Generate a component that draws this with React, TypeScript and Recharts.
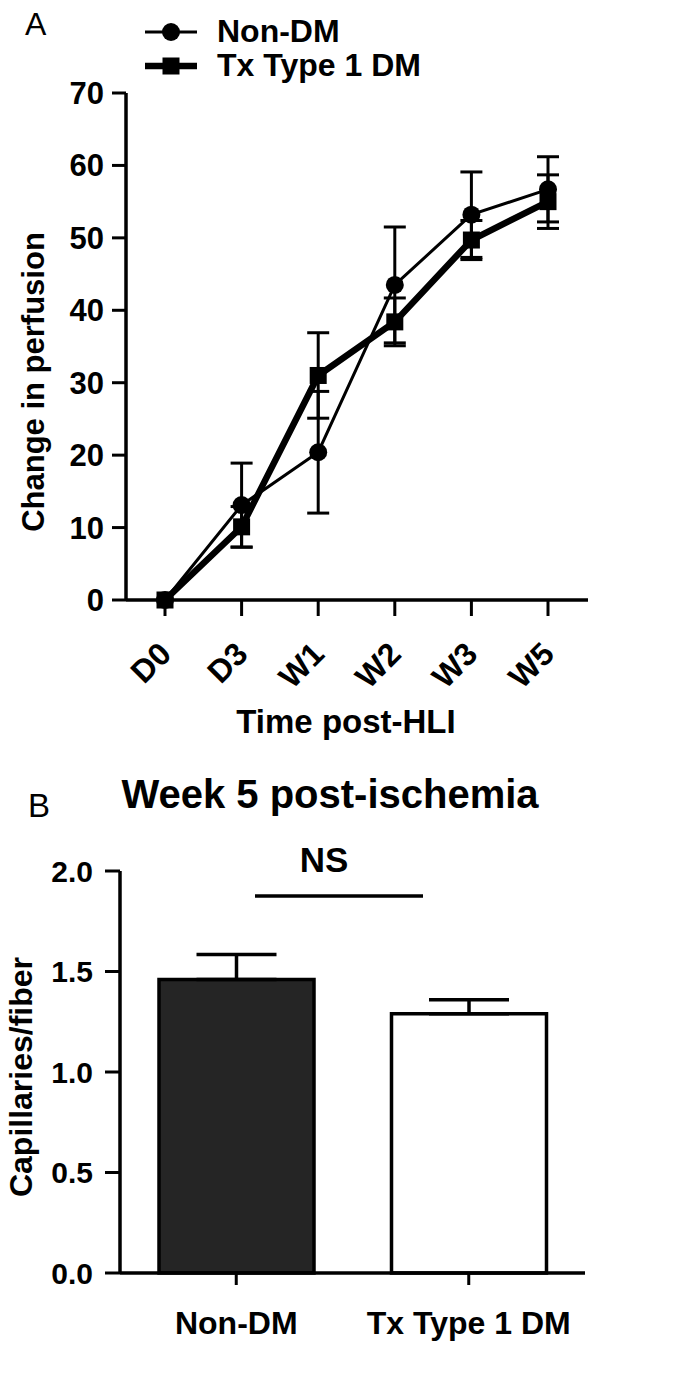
import React from "react";
import {
  LineChart,
  Line,
  BarChart,
  Bar,
  Cell,
  XAxis,
  YAxis,
  ErrorBar,
} from "recharts";

// panel A: perfusion recovery after HLI
const timePoints = ["D0", "D3", "W1", "W2", "W3", "W5"];
const nonDmMean = [0, 13.1, 20.4, 43.5, 53.2, 56.7];
const nonDmSem = [0, 5.8, 8.4, 8.0, 5.9, 4.5];
const txMean = [0, 10.1, 31.0, 38.4, 49.7, 55.0];
const txSem = [0, 2.8, 5.9, 3.3, 2.7, 3.7];
const perfusionTicks = [0, 10, 20, 30, 40, 50, 60, 70];

// panel B: capillary density at week 5
const groups = ["Non-DM", "Tx Type 1 DM"];
const capMean = [1.46, 1.29];
const capSem = [0.125, 0.07];
const barFills = ["#252525", "#ffffff"];
const capTicks = [0, 0.5, 1, 1.5, 2];

const FONT = '"Liberation Sans", Arial, Helvetica, sans-serif';

const perfData = timePoints.map((t, i) => ({
  time: t,
  nonDm: nonDmMean[i],
  nonDmErr: nonDmSem[i],
  tx: txMean[i],
  txErr: txSem[i],
}));

const capData = groups.map((g, i) => ({
  group: g,
  mean: capMean[i],
  err: [0, capSem[i]],
}));

const tickStyle = { fill: "#000", fontSize: 31, fontWeight: "bold", fontFamily: FONT };

function RotTick(p: any) {
  return (
    <g transform={`translate(${p.x},${p.y})`}>
      <text
        x={8}
        y={38}
        textAnchor="end"
        transform="rotate(-45 8 38)"
        fill="#000"
        fontSize={32}
        fontWeight="bold"
        fontFamily={FONT}
      >
        {p.payload.value}
      </text>
    </g>
  );
}

function CircleDot(p: any) {
  return <circle key={`c-${p.index}`} cx={p.cx} cy={p.cy} r={9} fill="#000" />;
}

function SquareDot(p: any) {
  return (
    <rect key={`s-${p.index}`} x={p.cx - 8.5} y={p.cy - 8.5} width={17} height={17} fill="#000" />
  );
}

export default function App() {
  return (
    <div
      style={{
        position: "absolute",
        left: 0,
        top: 0,
        width: 681,
        height: 1380,
        background: "#fff",
        fontFamily: FONT,
      }}
    >
      <div style={{ position: "absolute", left: 0, top: 0 }}>
        <LineChart
          width={681}
          height={760}
          data={perfData}
          margin={{ top: 93, right: 93, bottom: 100, left: 26 }}
        >
          <XAxis
            dataKey="time"
            height={60}
            interval={0}
            padding={{ left: 39, right: 40 }}
            axisLine={{ stroke: "#000", strokeWidth: 3.5 }}
            tickLine={{ stroke: "#000", strokeWidth: 3 }}
            tickSize={16}
            tick={<RotTick />}
          />
          <YAxis
            width={100}
            type="number"
            domain={[0, 70]}
            ticks={perfusionTicks}
            interval={0}
            axisLine={{ stroke: "#000", strokeWidth: 3.5 }}
            tickLine={{ stroke: "#000", strokeWidth: 3 }}
            tickSize={14}
            tickMargin={8}
            tick={tickStyle}
          />
          <Line
            type="linear"
            dataKey="nonDm"
            stroke="#000"
            strokeWidth={3}
            dot={CircleDot}
            activeDot={false}
            isAnimationActive={false}
          >
            <ErrorBar dataKey="nonDmErr" direction="y" width={11} stroke="#000" strokeWidth={3} />
          </Line>
          <Line
            type="linear"
            dataKey="tx"
            stroke="#000"
            strokeWidth={6.5}
            dot={SquareDot}
            activeDot={false}
            isAnimationActive={false}
          >
            <ErrorBar dataKey="txErr" direction="y" width={11} stroke="#000" strokeWidth={3} />
          </Line>
        </LineChart>
      </div>

      <div style={{ position: "absolute", left: 0, top: 760 }}>
        <BarChart
          width={681}
          height={620}
          data={capData}
          barSize={155}
          margin={{ top: 111, right: 96, bottom: 47, left: 20 }}
        >
          <XAxis
            dataKey="group"
            height={60}
            interval={0}
            axisLine={{ stroke: "#000", strokeWidth: 3.5 }}
            tickLine={{ stroke: "#000", strokeWidth: 3 }}
            tickSize={12}
            tickMargin={26}
            tick={{ ...tickStyle, fontSize: 32 }}
          />
          <YAxis
            width={100}
            type="number"
            domain={[0, 2]}
            ticks={capTicks}
            interval={0}
            tickFormatter={(v: number) => v.toFixed(1)}
            axisLine={{ stroke: "#000", strokeWidth: 3.5 }}
            tickLine={{ stroke: "#000", strokeWidth: 3 }}
            tickSize={15}
            tickMargin={12}
            tick={{ ...tickStyle, fontSize: 30 }}
          />
          <Bar dataKey="mean" stroke="#000" strokeWidth={3.5} isAnimationActive={false}>
            {capData.map((d, i) => (
              <Cell key={d.group} fill={barFills[i]} />
            ))}
            <ErrorBar dataKey="err" direction="y" width={40} stroke="#000" strokeWidth={3.5} />
          </Bar>
        </BarChart>
      </div>

      <svg
        width={681}
        height={1380}
        style={{ position: "absolute", left: 0, top: 0, pointerEvents: "none" }}
        fontFamily={FONT}
      >
        <text x={25} y={35} fontSize={32} fill="#000">A</text>

        <line x1={145} y1={32} x2={197} y2={32} stroke="#000" strokeWidth={3} />
        <circle cx={171} cy={32} r={9} fill="#000" />
        <text x={217} y={42} fontSize={32} fontWeight="bold" fill="#000">Non-DM</text>
        <line x1={145} y1={66} x2={197} y2={66} stroke="#000" strokeWidth={6.5} />
        <rect x={162.5} y={57.5} width={17} height={17} fill="#000" />
        <text x={217} y={76} fontSize={32} fontWeight="bold" fill="#000">Tx Type 1 DM</text>

        <text
          transform="translate(44,382) rotate(-90)"
          textAnchor="middle"
          fontSize={31}
          fontWeight="bold"
          fill="#000"
        >
          Change in perfusion
        </text>
        <text x={346} y={733} textAnchor="middle" fontSize={33} fontWeight="bold" fill="#000">
          Time post-HLI
        </text>

        <text x={28} y={817} fontSize={33} fill="#000">B</text>
        <text x={330} y={808} textAnchor="middle" fontSize={40} fontWeight="bold" fill="#000">
          Week 5 post-ischemia
        </text>
        <text x={324} y={872} textAnchor="middle" fontSize={35} fontWeight="bold" fill="#000">
          NS
        </text>
        <line x1={255} y1={896} x2={423} y2={896} stroke="#000" strokeWidth={3.5} />
        <text
          transform="translate(32,1077) rotate(-90)"
          textAnchor="middle"
          fontSize={32}
          fontWeight="bold"
          fill="#000"
        >
          Capillaries/fiber
        </text>
      </svg>
    </div>
  );
}
